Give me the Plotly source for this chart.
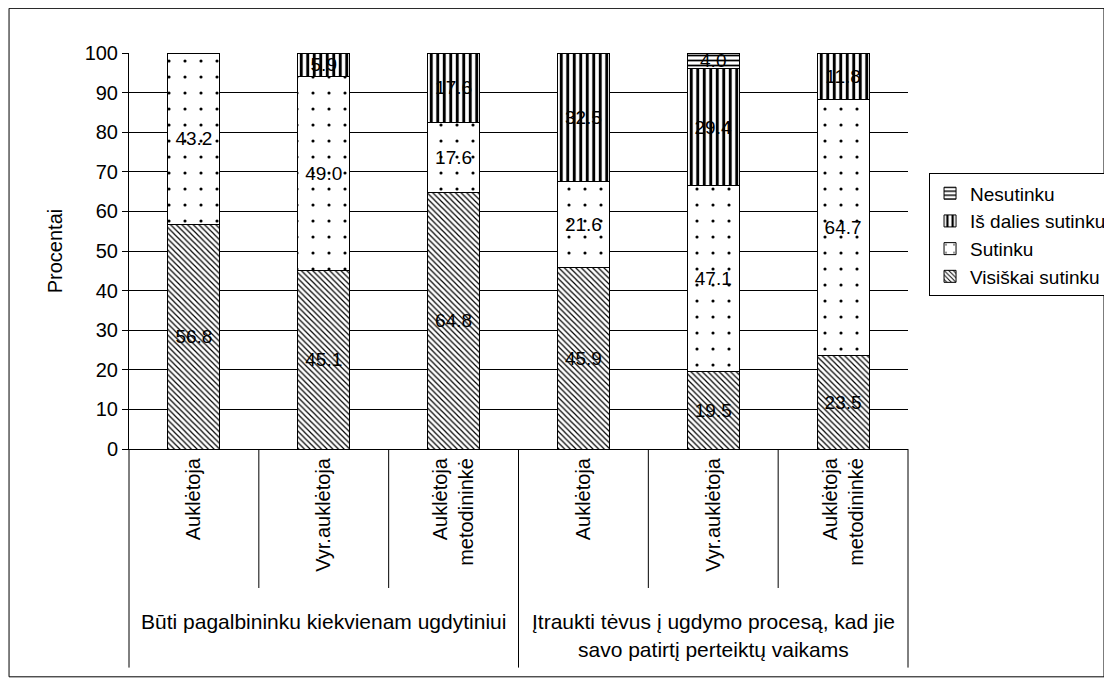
import plotly.graph_objects as go

# ---- data ----
roles = ["Auklėtoja", "Vyr.auklėtoja", "Auklėtoja<br>metodininkė",
         "Auklėtoja", "Vyr.auklėtoja", "Auklėtoja<br>metodininkė"]
groups = [["Būti pagalbininku kiekvienam ugdytiniui"],
          ["Įtraukti tėvus į ugdymo procesą, kad jie", "savo patirtį perteiktų vaikams"]]
group_sizes = [3, 3]

visiskai_sutinku = [56.8, 45.1, 64.8, 45.9, 19.5, 23.5]
sutinku = [43.2, 49.0, 17.6, 21.6, 47.1, 64.7]
is_dalies_sutinku = [None, 5.9, 17.6, 32.5, 29.4, 11.8]
nesutinku = [None, None, None, None, 4.0, None]

series = [
    ("Visiškai sutinku", visiskai_sutinku, dict(shape="\\", size=4, solidity=0.3)),
    ("Sutinku", sutinku, dict(shape=".", size=16, solidity=0.03)),
    ("Iš dalies sutinku", is_dalies_sutinku, dict(shape="|", size=6.5, solidity=0.45)),
    ("Nesutinku", nesutinku, dict(shape="-", size=5, solidity=0.35)),
]

yticks = [0, 10, 20, 30, 40, 50, 60, 70, 80, 90, 100]

FONT = "Arial, Liberation Sans, sans-serif"
x = list(range(len(roles)))

fig = go.Figure()
for name, vals, pat in series:
    fig.add_trace(go.Bar(
        x=x, y=vals, name=name, width=0.4,
        marker=dict(color="white", line=dict(color="black", width=1),
                    pattern=dict(fgcolor="black", bgcolor="white", fillmode="replace", **pat)),
        texttemplate="%{y:.1f}", textposition="inside", insidetextanchor="middle",
        textangle=0, constraintext="none",
        textfont=dict(family=FONT, size=19, color="black"),
        hoverinfo="skip",
    ))

fig.update_layout(
    width=1112, height=685,
    barmode="stack",
    paper_bgcolor="white", plot_bgcolor="white",
    margin=dict(l=121, r=212, t=45, b=244, autoexpand=False),
    font=dict(family=FONT, size=19, color="black"),
    showlegend=True,
    legend=dict(x=1.027, y=0.696, xanchor="left", yanchor="top",
                traceorder="reversed", bordercolor="black", borderwidth=1,
                bgcolor="white", font=dict(family=FONT, size=19, color="black"),
                itemwidth=30),
)

fig.update_yaxes(
    range=[0, 100], tickvals=yticks, showgrid=True, gridcolor="black", gridwidth=1,
    showline=True, linecolor="black", linewidth=1, ticks="outside", ticklen=6,
    tickcolor="black", tickfont=dict(family=FONT, size=20, color="black"),
    title=dict(text="Procentai", font=dict(family=FONT, size=20, color="black"), standoff=16),
    zeroline=False,
)
fig.update_xaxes(
    range=[-0.5, len(roles) - 0.5], tickvals=x, ticktext=roles, tickangle=-90,
    showline=True, linecolor="black", linewidth=1, ticks="", showgrid=False,
    tickfont=dict(family=FONT, size=20, color="black"), zeroline=False,
)

# category dividers below the axis
n = len(roles)
group_edges = [0]
for s in group_sizes:
    group_edges.append(group_edges[-1] + s)
for k in range(n + 1):
    is_group = k in group_edges
    fig.add_shape(type="line", xref="x domain", yref="paper",
                  x0=k / n, x1=k / n, y0=0, y1=-0.552 if is_group else -0.351,
                  line=dict(color="black", width=1))

# group labels
for gi, lines in enumerate(groups):
    center = (group_edges[gi] + group_edges[gi + 1] - 1) / 2
    for li, line in enumerate(lines):
        fig.add_annotation(x=center, xref="x", y=-0.436 - li * 0.071, yref="paper",
                           text=line, showarrow=False, yanchor="middle",
                           font=dict(family=FONT, size=21, color="black"))

# outer border
fig.add_shape(type="rect", xref="paper", yref="paper",
              x0=-0.154, x1=1.2516, y0=-0.5753, y1=1.1128,
              line=dict(color="black", width=1), fillcolor="rgba(0,0,0,0)")

fig.write_html("out.html")
